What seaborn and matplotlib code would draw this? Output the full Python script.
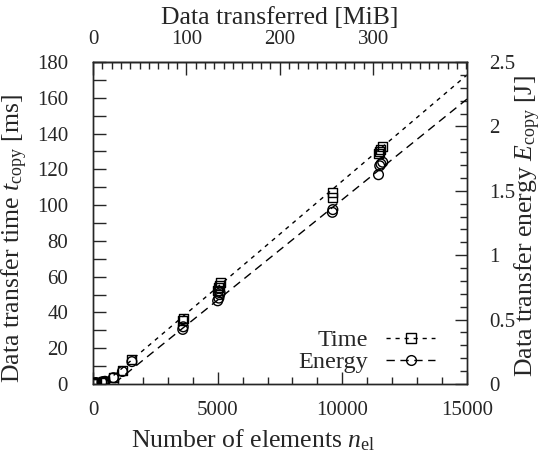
import numpy as np
import matplotlib
matplotlib.use("Agg")
import matplotlib.pyplot as plt
from matplotlib.lines import Line2D
from matplotlib.ticker import MultipleLocator, FixedLocator, FuncFormatter
import seaborn as sns

# Copy-time measurements: number of elements and transfer time [ms]
n_time = [40, 80, 120, 360, 420, 480, 820, 1180, 1560, 3600, 3620,
          5000, 5050, 5080, 5100, 9600, 9620, 11450, 11500, 11550, 11620]
t_copy = [0.3, 0.5, 0.8, 1.0, 1.3, 1.6, 3.8, 7.5, 13.8, 35.5, 36.5,
          52.0, 54.0, 55.0, 57.0, 104.0, 107.0, 129.0, 130.0, 131.0, 133.0]

# Copy-energy measurements: number of elements and transfer energy [J]
n_energy = [40, 80, 120, 360, 420, 480, 820, 1180, 1560, 3600, 3620,
            5000, 5050, 5080, 5100, 9600, 9620, 11450, 11500, 11550, 11620]
e_copy = [0.004, 0.007, 0.011, 0.014, 0.018, 0.021, 0.049, 0.097, 0.174,
          0.424, 0.444, 0.646, 0.667, 0.694, 0.708, 1.333, 1.354,
          1.625, 1.694, 1.708, 1.722]

# Linear models fitted to the measurements
time_slope, time_intercept = 0.01185, -5.0        # ms per element, ms
energy_slope, energy_intercept = 1.56e-4, -0.128  # J per element, J

BYTES_PER_ELEMENT = 28000
X_MAX, T_MAX, E_MAX = 15000, 180, 2.5
mib_ticks = [0, 100, 200, 300]

LABEL_SIZE = 18.5
LEGEND_SIZE = 17.5
TICK_SIZE = 15

sns.set_style("ticks")
plt.rcParams["font.family"] = ["Liberation Serif", "DejaVu Serif"]
plt.rcParams["mathtext.fontset"] = "custom"
plt.rcParams["mathtext.rm"] = "Liberation Serif"
plt.rcParams["mathtext.it"] = "Liberation Serif:italic"
plt.rcParams["font.size"] = TICK_SIZE
plt.rcParams["axes.linewidth"] = 1.0

W, H = 545, 459
fig = plt.figure(figsize=(W / 100, H / 100), dpi=100)
ax = fig.add_axes([93 / W, 1 - 384 / H, 374 / W, 322 / H])
ax2 = ax.twinx()

grid = np.linspace(0, X_MAX, 200)
time_ls = (0, (3, 3.5))
energy_ls = (0, (6, 4))

sns.lineplot(x=grid, y=time_intercept + time_slope * grid, ax=ax,
             color="black", linewidth=1, linestyle=time_ls)
sns.scatterplot(x=n_time, y=t_copy, ax=ax, marker="s", s=6.5 ** 2,
                color="black", facecolors="none", edgecolor="black",
                linewidth=1, zorder=3)

sns.lineplot(x=grid, y=energy_intercept + energy_slope * grid, ax=ax2,
             color="black", linewidth=1, linestyle=energy_ls)
sns.scatterplot(x=n_energy, y=e_copy, ax=ax2, marker="o", s=7 ** 2,
                color="black", facecolors="none", edgecolor="black",
                linewidth=1, zorder=3)

ax.set_xlim(0, X_MAX)
ax.set_ylim(0, T_MAX)
ax2.set_ylim(0, E_MAX)

fmt = FuncFormatter(lambda v, p: f"{v:g}")

ax.xaxis.set_major_locator(MultipleLocator(5000))
ax.xaxis.set_minor_locator(MultipleLocator(1000))
ax.yaxis.set_major_locator(MultipleLocator(20))
ax.yaxis.set_minor_locator(MultipleLocator(10))
ax.xaxis.set_major_formatter(fmt)
ax.yaxis.set_major_formatter(fmt)
ax.tick_params(axis="x", which="major", direction="in", length=9, width=1, pad=12, top=False)
ax.tick_params(axis="x", which="minor", direction="in", length=5, width=1, top=False)
ax.tick_params(axis="y", which="both", direction="in", length=9, width=1, pad=18, right=False)

ax2.yaxis.set_major_locator(MultipleLocator(0.5))
ax2.yaxis.set_minor_locator(MultipleLocator(0.1))
ax2.yaxis.set_major_formatter(fmt)
ax2.tick_params(axis="y", which="major", direction="in", length=9, width=1, pad=16)
ax2.tick_params(axis="y", which="minor", direction="in", length=5, width=1)

to_mib = lambda n: np.asarray(n) * BYTES_PER_ELEMENT / 2 ** 20
to_n = lambda m: np.asarray(m) * 2 ** 20 / BYTES_PER_ELEMENT
secax = ax.secondary_xaxis("top", functions=(to_mib, to_n))
secax.xaxis.set_major_locator(FixedLocator(mib_ticks))
secax.xaxis.set_minor_locator(MultipleLocator(10))
secax.xaxis.set_major_formatter(fmt)
secax.tick_params(which="major", direction="in", length=9, width=1, pad=9)
secax.tick_params(which="minor", direction="in", length=5, width=1)

secax.set_xlabel("Data transferred [MiB]", fontsize=LABEL_SIZE)
ax.set_xlabel(r"Number of elements $n_\mathrm{el}$", fontsize=LABEL_SIZE)
ax.set_ylabel(r"Data transfer time $t_\mathrm{copy}$ [ms]", fontsize=LABEL_SIZE)
ax2.set_ylabel(r"Data transfer energy $E_\mathrm{copy}$ [J]", fontsize=LABEL_SIZE)

# Place the axis labels in figure pixel coordinates
px = lambda x, y: (x / W, 1 - y / H)
secax.xaxis.set_label_coords(*px(280, 24), transform=fig.transFigure)
ax.xaxis.set_label_coords(*px(253, 427), transform=fig.transFigure)
ax.yaxis.set_label_coords(*px(30, 239), transform=fig.transFigure)
ax2.yaxis.set_label_coords(*px(513, 226), transform=fig.transFigure)

handles = [
    Line2D([], [], color="black", linewidth=1, linestyle=time_ls,
           marker="s", markersize=6.5, markerfacecolor="none",
           markeredgewidth=1),
    Line2D([], [], color="black", linewidth=1, linestyle=energy_ls,
           marker="o", markersize=7, markerfacecolor="none",
           markeredgewidth=1),
]
ax.legend(handles, ["Time", "Energy"], loc="lower right",
          bbox_to_anchor=(0.96, -0.02), frameon=False, markerfirst=False,
          handlelength=2.0, handletextpad=0.75, labelspacing=0.0,
          borderpad=0.2, fontsize=LEGEND_SIZE)

fig.savefig("out.png", dpi=100)
